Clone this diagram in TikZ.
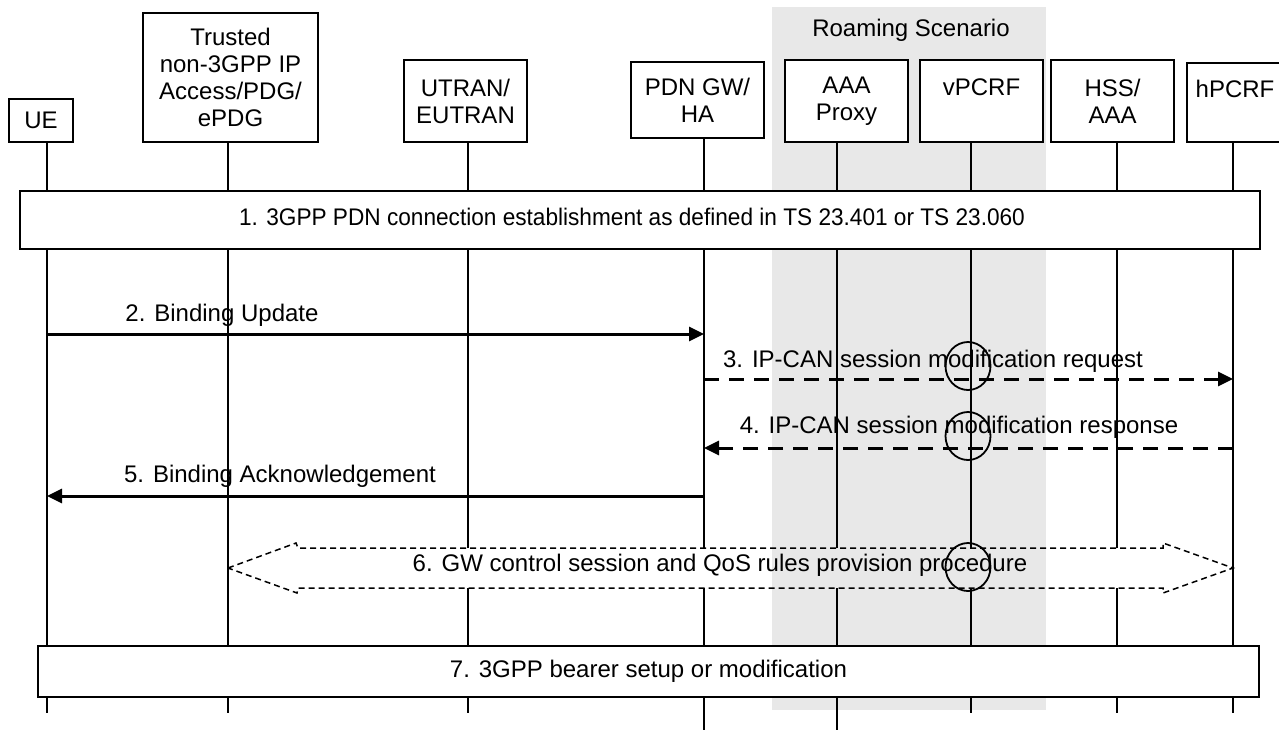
\documentclass[tikz,border=0pt]{standalone}
\usepackage{fontspec}
\setmainfont{Liberation Sans}
\usetikzlibrary{arrows.meta,calc}
\begin{document}
\begin{tikzpicture}[x=1pt,y=-1pt,font=\fontsize{24}{27}\selectfont,
  ent/.style={draw,line width=1.5pt,fill=white,inner sep=0pt,align=center},
  life/.style={line width=1.5pt},
  stepbox/.style={draw,line width=2pt,fill=white,inner sep=0pt},
  msg/.style={line width=3pt,-{Triangle[length=15pt,width=14pt]}},
  dmsg/.style={msg,dash pattern=on 15pt off 10pt},
  via/.style={line width=1.8pt}]%roaming
\useasboundingbox (0,0) rectangle (1279,729);
\fill[gray!18] (772,7) rectangle (1046,710);
\node (roam) at (911,30) {Roaming Scenario};
\node[ent,minimum width=64pt,minimum height=43pt] (ue) at (41,120.5) {UE};
\node[ent,minimum width=175pt,minimum height=129pt] (tna) at (230.5,77.5) {Trusted\\non-3GPP IP\\Access/PDG/\\ePDG};
\node[ent,minimum width=123pt,minimum height=82pt] (utran) at (465.5,101) {UTRAN/\\EUTRAN};
\node[ent,minimum width=133pt,minimum height=76pt] (pgw) at (697.5,100) {PDN GW/\\HA};
\node[ent,minimum width=123pt,minimum height=82pt] (aaap) at (846.5,101) {AAA\\Proxy};
\node[ent,minimum width=123pt,minimum height=82pt] (vpcrf) at (981.5,101) {vPCRF\\\mbox{}};
\node[ent,minimum width=123pt,minimum height=82pt] (hss) at (1112.5,101) {HSS/\\AAA};
\node[ent,minimum width=96pt,minimum height=79pt] (hpcrf) at (1235,102.5) {hPCRF\\\mbox{}};
\foreach \n/\x in {ue/47,tna/228,utran/468,pgw/704,aaap/837,vpcrf/971,hss/1117,hpcrf/1233}
  \coordinate (\n-x) at (\x,0);
\coordinate (r2) at (0,334);
\coordinate (r3) at (0,379);
\coordinate (r4) at (0,448);
\coordinate (r5) at (0,496);
\coordinate (r6) at (0,568);
\coordinate (r6t) at (0,548);
\coordinate (r6b) at (0,588);
\coordinate (bot) at (0,713);
\coordinate (edge) at (0,730);
\foreach \n in {ue,tna,hpcrf}
  \draw[life] (\n.south -| \n-x) -- (\n-x |- bot);
\foreach \n/\e in {utran/bot,pgw/edge,aaap/edge,vpcrf/bot,hss/bot} {
  \draw[life] (\n.south -| \n-x) -- (\n-x |- r6t);
  \draw[life] (\n-x |- r6b) -- (\n-x |- \e);
}
\node[stepbox,minimum width=1240pt,minimum height=58pt] (s1) at (640,220) {};
\node (l1) at (632,217) {\scalebox{0.943}[1]{1. 3GPP PDN connection establishment as defined in TS 23.401 or TS 23.060}};
\node[stepbox,minimum width=1221pt,minimum height=51pt] (s7) at (648.5,671.5) {7. 3GPP bearer setup or modification};
\draw[msg] (ue-x |- r2) -- (pgw-x |- r2);
\draw[dmsg] (pgw-x |- r3) -- (hpcrf-x |- r3);
\draw[dmsg] (hpcrf-x |- r4) -- (pgw-x |- r4);
\draw[msg] (pgw-x |- r5) -- (ue-x |- r5);
\draw[line width=1.5pt,dash pattern=on 6pt off 4pt] (tna-x |- r6) -- ++(68,-25) -- ++(2,5)
  -- ($(hpcrf-x |- r6t)+(-70,0)$) -- ++(0,-5) -- (hpcrf-x |- r6) -- ++(-70,25) -- ++(0,-5)
  -- ($(tna-x |- r6b)+(70,0)$) -- ++(-1,5) -- cycle;
\foreach \y in {366,436,567} \draw[via] (968,\y) ellipse (22.5 and 24);
\node[anchor=base] (l2) at (222,321) {2. Binding Update};
\node[anchor=base] (l3) at (933,367) {3. IP-CAN session modification request};
\node[anchor=base] (l4) at (959,433) {4. IP-CAN session modification response};
\node[anchor=base] (l5) at (280,482) {5. Binding Acknowledgement};
\node (l6) at (720,565) {6. GW control session and QoS rules provision procedure};
\end{tikzpicture}
\end{document}
